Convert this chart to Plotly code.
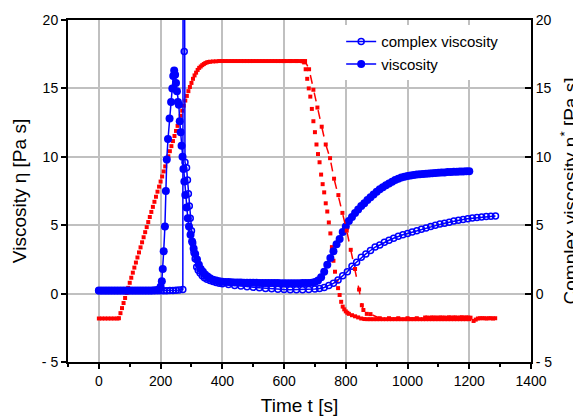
import plotly.graph_objects as go

# ---------------- data ----------------
# red trace A (temperature, viscosity run)
t_temp_a = [0, 10, 20, 30, 40, 50, 60, 65, 70, 75, 80, 85, 90, 95, 100, 105, 110, 115, 120, 125, 130, 135,
            140, 145, 150, 155, 160, 165, 170, 175, 180, 185, 190, 195, 200, 205, 210, 215, 220, 225, 230,
            235, 240, 245, 250, 255, 260, 265, 270, 275, 280, 285, 290, 295, 300, 305, 310, 315, 320, 325,
            330, 335, 340, 345, 350, 355, 360, 370, 380, 390, 400, 410, 420, 430, 440, 450, 460, 470, 480,
            490, 500, 510, 520, 530, 540, 550, 560, 570, 580, 590, 600, 610, 620, 630, 640, 650, 660, 665,
            670, 675, 680, 685, 690, 695, 700, 705, 710, 715, 720, 725, 730, 735, 740, 745, 750, 755, 760,
            765, 770, 775, 780, 785, 790, 795, 800, 805, 810, 820, 830, 840, 850, 860, 870, 880, 890, 900,
            910, 920, 930, 940, 950, 960, 970, 980, 990, 1000, 1010, 1020, 1030, 1040, 1050, 1060, 1070,
            1080, 1090, 1100, 1110, 1120, 1130, 1140, 1150, 1160, 1170, 1180, 1190, 1200]
temp_a = [-1.82, -1.82, -1.82, -1.82, -1.82, -1.82, -1.82, -1.80,
          -1.43, -1.06, -0.69, -0.32, 0.05, 0.42, 0.79, 1.16, 1.53, 1.90, 2.27, 2.64, 3.01, 3.38, 3.75,
          4.12, 4.49, 4.86, 5.23, 5.60, 5.97, 6.34, 6.71, 7.08, 7.45, 7.82, 8.19, 8.56, 8.93, 9.30, 9.67,
          10.04, 10.41, 10.78, 11.15, 11.52, 11.89, 12.26, 12.63, 13.00, 13.37, 13.74, 14.11, 14.45,
          14.80, 15.10, 15.40, 15.70, 15.95, 16.15, 16.35, 16.50, 16.60, 16.70, 16.78, 16.85, 16.90,
          16.93, 16.95,
          16.97, 16.98, 17.0, 17.0, 17.0, 17.0, 17.0, 17.0, 17.0, 17.0, 17.0, 17.0, 17.0, 17.0, 17.0,
          17.0, 17.0, 17.0, 17.0, 17.0, 17.0, 17.0, 17.0, 17.0, 17.0, 17.0, 17.0, 17.0, 17.0, 16.98,
          16.9, 16.4, 15.7, 15.0, 14.4, 13.5, 12.6, 11.8, 10.9, 10.2, 9.6, 8.7, 8.0, 7.4, 6.6, 6.0, 5.2,
          4.4, 3.4, 2.4, 1.6, 0.9, 0.4, -0.1, -0.6, -0.95, -1.15, -1.3, -1.4, -1.48,
          -1.58, -1.66, -1.74, -1.82, -1.86,
          -1.87, -1.87, -1.87, -1.87, -1.87, -1.87, -1.87, -1.87, -1.87, -1.87, -1.87, -1.87, -1.87,
          -1.87, -1.87, -1.87, -1.87, -1.87, -1.87, -1.87, -1.87, -1.87, -1.87, -1.87, -1.87, -1.87,
          -1.87, -1.87, -1.87, -1.87, -1.87, -1.87, -1.87, -1.87]

# red trace B (temperature, complex viscosity run)
t_temp_b = [600, 620, 640, 660, 668, 681, 695, 708, 722, 735, 749, 762, 776, 789, 803, 816, 830, 843, 852,
            857, 868, 880, 910, 940, 970, 1000, 1030, 1057, 1064, 1071, 1078, 1085, 1092, 1099, 1106, 1113,
            1120, 1127, 1134, 1141, 1148, 1155, 1162, 1169, 1176, 1183, 1190, 1197, 1204, 1214, 1221, 1228,
            1235, 1242, 1249, 1256, 1263, 1270, 1277, 1284]
temp_b = [17.0, 17.0, 17.0, 17.0, 17.0, 16.4, 14.9, 13.6, 12.2, 10.9, 9.9, 8.4, 7.2, 5.9, 4.6, 3.2, 1.8,
          0.3, -0.85, -1.2, -1.48, -1.5, -1.8, -1.8, -1.8, -1.8, -1.8, -1.75,
          -1.75, -1.78, -1.74, -1.76, -1.75, -1.77, -1.74, -1.76, -1.75, -1.78, -1.73, -1.76, -1.75,
          -1.74, -1.77, -1.75, -1.73, -1.76, -1.74, -1.75, -1.76,
          -2.0, -1.9, -1.82, -1.8, -1.8, -1.8, -1.82, -1.8, -1.8, -1.82, -1.8]

# viscosity (filled circles)
t_visc = [0, 10, 20, 30, 40, 50, 60, 70, 80, 90, 100, 110, 120, 130, 140, 150, 160, 170, 180, 190,
          195, 200, 204, 207, 210, 214, 217, 220, 224, 229, 234, 238, 241, 244, 247, 250, 253, 256, 259,
          262, 265, 268, 271, 274, 277, 280, 284, 288, 292, 297, 302, 307, 312, 318, 324, 330, 337, 344,
          352, 360, 370, 380, 390, 400,
          410, 420, 430, 440, 450, 460, 470, 480, 490, 500, 510, 520, 530, 540, 550, 560, 570, 580, 590,
          600, 610, 620, 630, 640, 650, 660, 670, 680, 690,
          700, 710, 720, 730, 740, 750, 760, 770, 780, 790, 800, 810, 820, 830, 840, 850, 860, 870, 880,
          890, 900, 910, 920, 930, 940, 950, 960, 970, 980, 990, 1000, 1010, 1020, 1030, 1040, 1050,
          1060, 1070, 1080, 1090, 1100, 1110, 1120, 1130, 1140, 1150, 1160, 1170, 1180, 1190, 1200]
visc = [0.22, 0.22, 0.23, 0.22, 0.22, 0.22, 0.23, 0.22, 0.22, 0.22, 0.23, 0.22, 0.22, 0.22, 0.23, 0.22,
        0.22, 0.23, 0.24, 0.26,
        0.3, 0.5, 0.9, 1.8, 3.1, 4.9, 7.5, 9.8, 11.3, 12.8, 14.0, 15.0, 15.9, 16.3, 16.0, 15.4, 14.8,
        14.0, 13.8, 12.6, 11.8, 10.8, 10.0, 9.1, 8.2, 7.2, 6.3, 5.5, 4.9, 4.3, 3.8, 3.3, 2.9, 2.5, 2.1,
        1.8, 1.6, 1.4, 1.25, 1.12, 1.02, 0.95, 0.9, 0.87,
        0.85, 0.84, 0.83, 0.82, 0.82, 0.81, 0.8, 0.8, 0.8, 0.79, 0.79, 0.78, 0.78, 0.78, 0.77, 0.77,
        0.77, 0.77, 0.76, 0.76, 0.76, 0.76, 0.76, 0.76, 0.76, 0.77, 0.77, 0.78, 0.8,
        0.85, 0.95, 1.2, 1.6, 2.1, 2.6, 3.1, 3.6, 4.0, 4.5, 4.9, 5.3, 5.6, 5.9, 6.15, 6.4, 6.6, 6.85,
        7.05, 7.25, 7.45, 7.62, 7.78, 7.92, 8.05, 8.18, 8.3, 8.4, 8.48, 8.55, 8.6, 8.64, 8.67, 8.7,
        8.72, 8.74, 8.76, 8.78, 8.8, 8.82, 8.83, 8.85, 8.86, 8.88, 8.89, 8.9, 8.91, 8.92, 8.93, 8.94,
        8.95]

# complex viscosity (open circles)
t_cplx = [0, 10, 20, 30, 40, 50, 60, 70, 80, 90, 100, 110, 120, 130, 140, 150, 160, 170, 180, 190, 200,
          210, 220, 230, 240, 250, 260, 272, 274, 276.5, 279, 284, 287, 290, 293, 296, 300, 304, 308, 312,
          317, 322, 328, 335, 342, 350, 360, 370, 380, 390, 400, 420, 440, 460, 480, 500, 520, 540, 560,
          580, 600, 620, 640, 660, 680, 700, 715, 730, 745, 760, 775, 790, 805, 820, 835, 850, 865, 880,
          895, 910, 925, 940, 955, 970, 985, 1000, 1015, 1030, 1045, 1060, 1075, 1090, 1105, 1120, 1135,
          1150, 1165, 1180, 1195, 1210, 1225, 1240, 1255, 1270, 1285]
cplx = [0.2, 0.2, 0.2, 0.2, 0.2, 0.2, 0.2, 0.2, 0.2, 0.2, 0.2, 0.2, 0.2, 0.2, 0.2, 0.2, 0.2, 0.2, 0.2, 0.2,
        0.2, 0.2, 0.2, 0.22, 0.22, 0.24, 0.26, 0.3, 60.0, 17.7, 9.6, 9.2, 8.3, 7.3, 6.4, 5.5, 4.6, 3.7,
        3.0, 2.55, 1.95, 1.7, 1.5, 1.3, 1.15, 1.05, 0.95, 0.88, 0.82, 0.76, 0.72, 0.66, 0.6, 0.55, 0.5,
        0.46, 0.42, 0.38, 0.35, 0.32, 0.3, 0.28, 0.28, 0.28, 0.3, 0.33, 0.37, 0.45, 0.6, 0.75, 1.0, 1.3,
        1.6, 2.0, 2.3, 2.65, 2.9, 3.15, 3.4, 3.55, 3.75, 3.9, 4.05, 4.2, 4.3, 4.4, 4.5, 4.6, 4.7, 4.8,
        4.9, 5.0, 5.08, 5.15, 5.22, 5.3, 5.36, 5.42, 5.48, 5.52, 5.56, 5.6, 5.64, 5.66, 5.68]

x_ticks = [0, 200, 400, 600, 800, 1000, 1200, 1400]
y_ticks = [-5, 0, 5, 10, 15, 20]
y_ticktext = ["- 5", "0", "5", "10", "15", "20"]

# ---------------- figure ----------------
FONT = "Liberation Sans, Arial, sans-serif"
RED = "#ff0000"
BLUE = "#0000ff"

fig = go.Figure()

fig.add_trace(go.Scatter(
    x=t_temp_a, y=temp_a, mode="markers", showlegend=False,
    marker=dict(symbol="square", size=4, color=RED, line=dict(width=0)),
    yaxis="y"))

fig.add_trace(go.Scatter(
    x=t_visc, y=visc, mode="lines+markers", name="viscosity",
    line=dict(color=BLUE, width=1.5),
    marker=dict(symbol="circle", size=8, color=BLUE, line=dict(width=0)),
    yaxis="y"))

fig.add_trace(go.Scatter(
    x=t_cplx, y=cplx, mode="lines+markers", name="complex viscosity",
    line=dict(color=BLUE, width=1.5),
    marker=dict(symbol="circle-open", size=6, color=BLUE, line=dict(width=1.5, color=BLUE)),
    yaxis="y2"))

fig.add_trace(go.Scatter(
    x=t_temp_b, y=temp_b, mode="lines+markers", showlegend=False,
    line=dict(color=RED, width=1.5, dash="dash"),
    marker=dict(symbol="square", size=4, color=RED, line=dict(width=0)),
    yaxis="y2"))

# the page body adds an 8px offset, so the figure is sized to fit the window
fig.update_layout(
    template="none",
    width=573, height=408,
    margin=dict(l=60, r=50, t=12, b=54, autoexpand=False),
    paper_bgcolor="white", plot_bgcolor="white",
    font=dict(family=FONT, color="black", size=14),
    xaxis=dict(
        range=[-100, 1400], tickvals=x_ticks, ticks="outside", ticklen=5, tickwidth=1.5,
        tickcolor="black", showline=True, linewidth=2, linecolor="black", mirror=True,
        showgrid=True, gridcolor="#c0c0c0", gridwidth=2, zeroline=False, automargin=False,
        minor=dict(tick0=0, dtick=100, ticks="outside", ticklen=3, tickwidth=1.5,
                   tickcolor="black", showgrid=False),
        tickfont=dict(size=14),
        title=dict(text="Time t [s]", font=dict(size=19), standoff=20),
    ),
    yaxis=dict(
        range=[-5, 20], tickvals=y_ticks, ticktext=y_ticktext, ticks="outside", ticklen=5,
        tickwidth=1.5, tickcolor="black", showline=True, linewidth=2, linecolor="black",
        showgrid=True, gridcolor="#c0c0c0", gridwidth=2, zeroline=False, automargin=False,
        tickfont=dict(size=14),
        title=dict(text="Viscosity η [Pa s]", font=dict(size=19), standoff=10),
    ),
    yaxis2=dict(
        range=[-5, 20], tickvals=y_ticks, ticktext=y_ticktext, overlaying="y", side="right",
        ticks="inside", ticklen=6, tickwidth=1.5, tickcolor="black", showline=True,
        linewidth=2, linecolor="black", showgrid=False, zeroline=False, automargin=False,
        tickfont=dict(size=14),
        title=dict(text="Complex viscosity η<sup>*</sup> [Pa s]", font=dict(size=19), standoff=24),
    ),
    legend=dict(
        x=0.59, y=0.985, xanchor="left", yanchor="top", bgcolor="white",
        borderwidth=0, font=dict(size=15), traceorder="reversed", tracegroupgap=0,
    ),
)

fig.write_html("out.html")
